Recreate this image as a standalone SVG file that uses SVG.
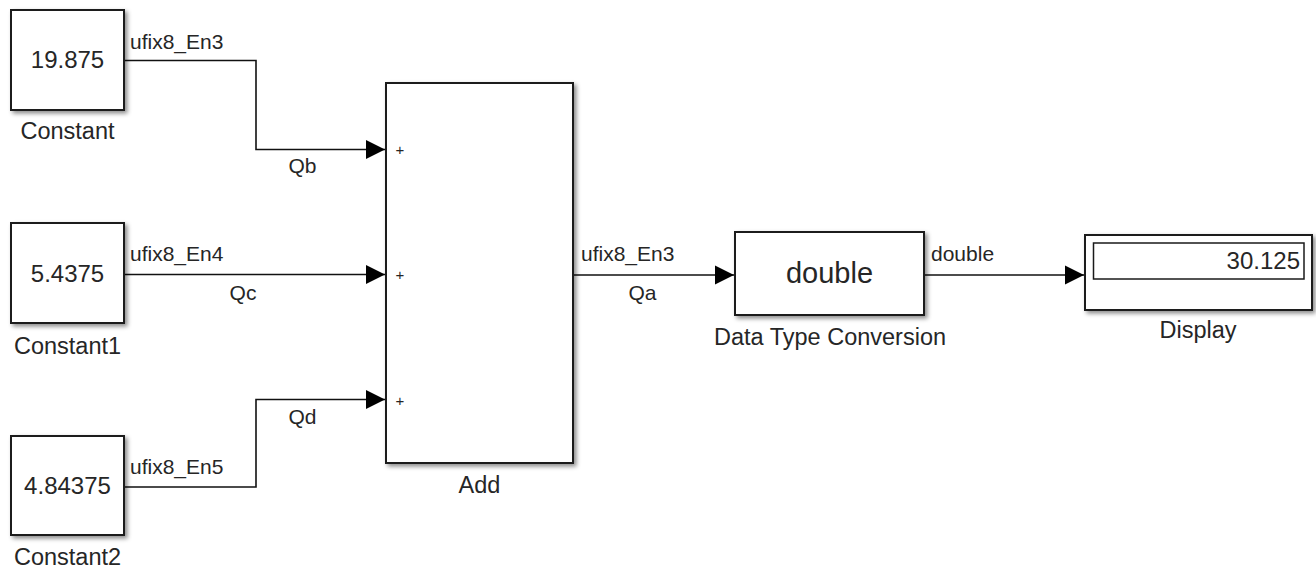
<svg xmlns="http://www.w3.org/2000/svg" width="1316" height="569" viewBox="0 0 1316 569">
<style>
  text { font-family: "Liberation Sans", Arial, sans-serif; fill: #262626; }
  .blk { fill: #ffffff; stroke: #1a1a1a; stroke-width: 2; filter: url(#shadow); }
  .inner { fill: #ffffff; stroke: #1a1a1a; stroke-width: 1.5; }
  .val { font-size: 24px; text-anchor: middle; }
  .lbl { font-size: 23.5px; text-anchor: middle; }
  .sig { font-size: 21px; }
  .sigc { font-size: 21px; text-anchor: middle; }
  .plus { font-size: 15px; text-anchor: middle; }
  .wire { fill: none; stroke: #111111; stroke-width: 1.6; marker-end: url(#arrow); }
</style>
<defs>
  <filter id="shadow" x="-10%" y="-10%" width="130%" height="130%">
    <feDropShadow dx="2.5" dy="2.5" stdDeviation="2" flood-color="#000000" flood-opacity="0.45"/>
  </filter>
  <marker id="arrow" markerUnits="userSpaceOnUse" markerWidth="20" markerHeight="20" viewBox="0 0 20 20" refX="19" refY="10" orient="auto">
    <path d="M0,0.5 L19,10 L0,19.5 Z" fill="#000000"/>
  </marker>
</defs>
<rect width="1316" height="569" fill="#ffffff"/>

<g id="connectors">
  <polyline class="wire" points="124,60.5 256,60.5 256,149.5 385,149.5"/>
  <polyline class="wire" points="124,274.5 385,274.5"/>
  <polyline class="wire" points="124,487 256,487 256,399.5 385,399.5"/>
  <polyline class="wire" points="573,275 734,275"/>
  <polyline class="wire" points="924,275 1084,275"/>
  <text class="sig" x="130" y="49">ufix8_En3</text>
  <text class="sigc" x="302.5" y="173">Qb</text>
  <text class="sig" x="130" y="261">ufix8_En4</text>
  <text class="sigc" x="243" y="300">Qc</text>
  <text class="sig" x="130" y="474">ufix8_En5</text>
  <text class="sigc" x="302.5" y="424">Qd</text>
  <text class="sig" x="581" y="261">ufix8_En3</text>
  <text class="sigc" x="642.5" y="300">Qa</text>
  <text class="sig" x="931" y="261">double</text>
</g>

<g id="Constant">
  <rect class="blk" x="11" y="10" width="113" height="100"/>
  <text class="val" x="67.5" y="68">19.875</text>
  <text class="lbl" x="67.5" y="139">Constant</text>
</g>

<g id="Constant1">
  <rect class="blk" x="11" y="223" width="113" height="100"/>
  <text class="val" x="67.5" y="282">5.4375</text>
  <text class="lbl" x="67.5" y="354">Constant1</text>
</g>

<g id="Constant2">
  <rect class="blk" x="11" y="436" width="113" height="99"/>
  <text class="val" x="67.5" y="494">4.84375</text>
  <text class="lbl" x="67.5" y="565">Constant2</text>
</g>

<g id="Add">
  <rect class="blk" x="386" y="83" width="187" height="380"/>
  <text class="plus" x="400" y="155">+</text>
  <text class="plus" x="400" y="280">+</text>
  <text class="plus" x="400" y="406">+</text>
  <text class="lbl" x="479.5" y="493">Add</text>
</g>

<g id="DataTypeConversion">
  <rect class="blk" x="735" y="232" width="189" height="83"/>
  <text x="829.5" y="283" style="font-size:29px;text-anchor:middle">double</text>
  <text class="lbl" x="830" y="345">Data Type Conversion</text>
</g>

<g id="Display">
  <rect class="blk" x="1085" y="235" width="227" height="75"/>
  <rect class="inner" x="1093.5" y="243" width="210.5" height="36"/>
  <text x="1300" y="269" style="font-size:24px;text-anchor:end">30.125</text>
  <text class="lbl" x="1198" y="338">Display</text>
</g>
</svg>
